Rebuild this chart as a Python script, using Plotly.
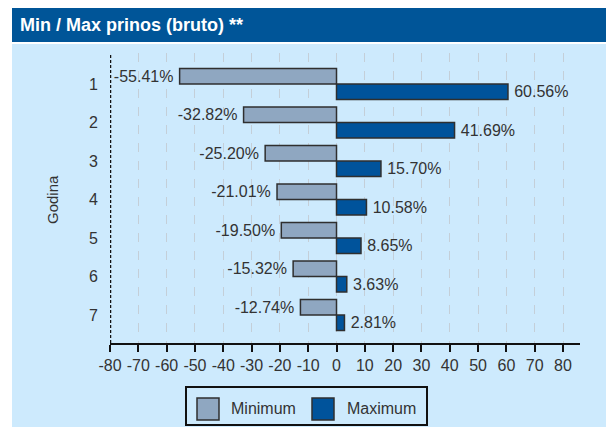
import plotly.graph_objects as go

categories = ["1", "2", "3", "4", "5", "6", "7"]
min_values = [-55.41, -32.82, -25.20, -21.01, -19.50, -15.32, -12.74]
max_values = [60.56, 41.69, 15.70, 10.58, 8.65, 3.63, 2.81]
x_ticks = list(range(-80, 81, 10))
series_names = ["Minimum", "Maximum"]
series_colors = ["#8fa7c1", "#00539b"]

W, H = 606, 427
px_l, px_r, px_t, px_b = 110, 580, 53, 343
FONT = "Arial"
TXT = "#333333"
PAD = "\u2009"

def px(x):
    return x / W

def py(y):
    return 1 - y / H

def label(v):
    s = f"{v:.2f}%"
    return s + PAD if v < 0 else PAD + s

fig = go.Figure()
for name, vals, col in zip(series_names, [min_values, max_values], series_colors):
    fig.add_trace(go.Bar(
        y=categories, x=vals, orientation="h", name=name, showlegend=False,
        marker=dict(color=col, line=dict(color="#2f2f2f", width=1.5)),
        text=[label(v) for v in vals], textposition="outside",
        constraintext="none",
        textfont=dict(size=16, color=TXT, family=FONT), cliponaxis=False,
    ))

shapes = [
    dict(type="rect", xref="paper", yref="paper", x0=px(12), x1=1, y0=0, y1=py(44),
         fillcolor="#cdeafd", line=dict(width=0), layer="below"),
    dict(type="rect", xref="paper", yref="paper", x0=px(12), x1=1, y0=py(42), y1=py(8),
         fillcolor="#005598", line=dict(width=0), layer="below"),
    dict(type="line", xref="x", yref="y domain", x0=-80, x1=-80, y0=0, y1=1,
         line=dict(color="#111111", width=2.5, dash="3px,2px")),
    # legend box
    dict(type="rect", xref="paper", yref="paper", x0=px(186), x1=px(427), y0=py(425), y1=py(387),
         fillcolor="#cdeafd", line=dict(color="#111111", width=2)),
]
annotations = [
    dict(text="<b>Min / Max prinos (bruto) **</b>", xref="paper", yref="paper",
         x=px(18), y=py(25), xanchor="left", yanchor="middle", showarrow=False,
         font=dict(size=18, color="white", family=FONT)),
    dict(text="Godina", xref="paper", yref="paper", x=px(52), y=py(200),
         xanchor="center", yanchor="middle", textangle=-90, showarrow=False,
         font=dict(size=15, color=TXT, family=FONT)),
]
legend_swatch_x = [197, 312]
legend_text_x = [229, 345]
for name, col, sx, tx in zip(series_names, series_colors, legend_swatch_x, legend_text_x):
    shapes.append(dict(type="rect", xref="paper", yref="paper", x0=px(sx), x1=px(sx + 22),
                       y0=py(420), y1=py(398), fillcolor=col,
                       line=dict(color="#2f2f2f", width=1.5)))
    annotations.append(dict(text=name, xref="paper", yref="paper", x=px(tx), y=py(408),
                            xanchor="left", yanchor="middle", showarrow=False,
                            font=dict(size=16, color=TXT, family=FONT)))

fig.update_layout(
    width=W, height=H,
    margin=dict(l=0, r=0, t=0, b=0),
    paper_bgcolor="white", plot_bgcolor="rgba(0,0,0,0)",
    barmode="group", bargap=0.195, bargroupgap=0,
    font=dict(family=FONT, color=TXT, size=16),
    shapes=shapes,
    annotations=annotations,
    showlegend=False,
    xaxis=dict(domain=[px(px_l), px(px_r)], range=[-80, 86], tickvals=x_ticks,
               ticktext=[str(v) for v in x_ticks], automargin=False,
               showgrid=True, gridcolor="#c4cfd8", griddash="dash", gridwidth=1,
               zeroline=False, showline=True, linecolor="#111111", linewidth=2,
               ticks="outside", ticklen=7, tickwidth=2, tickcolor="#111111",
               tickfont=dict(size=16, color=TXT)),
    yaxis=dict(domain=[py(px_b), py(px_t)], type="category", range=[6.727, -0.805],
               showgrid=False, zeroline=False, showline=False, ticks="",
               ticklabelstandoff=11, automargin=False,
               tickfont=dict(size=16, color=TXT)),
)

fig.write_html("out.html", config={"displayModeBar": False},
               post_script="document.body.style.margin='0';document.body.style.overflow='hidden';")
